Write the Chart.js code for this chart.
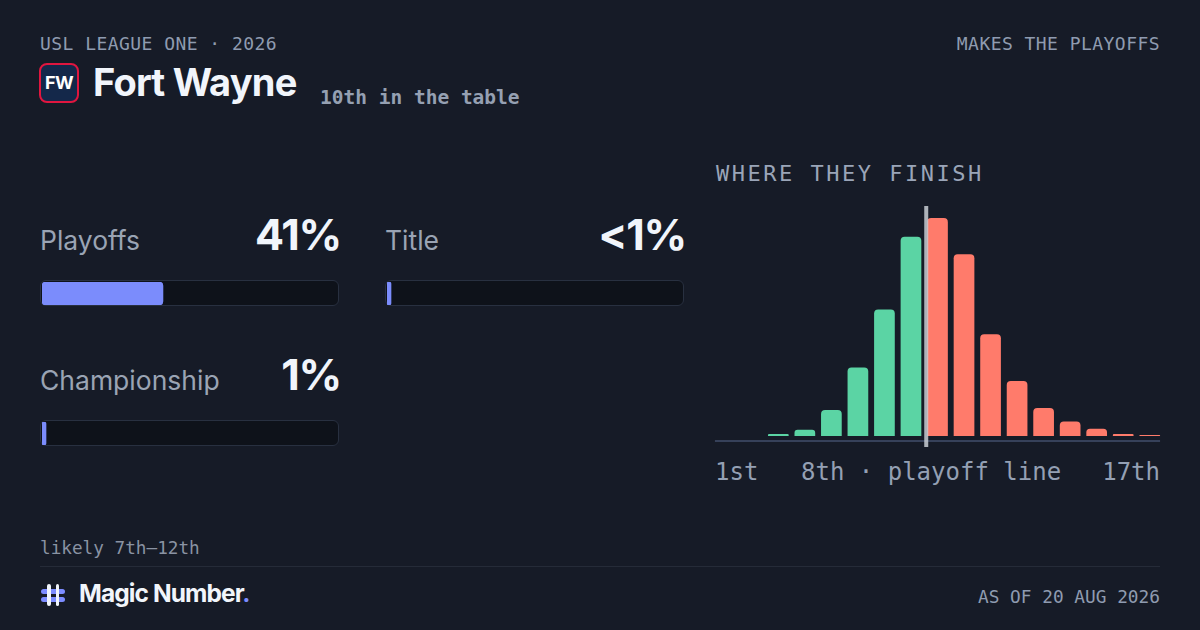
<!DOCTYPE html>
<html>
<head>
<meta charset="utf-8">
<script src="https://cdn.jsdelivr.net/npm/chart.js@4.4.1/dist/chart.umd.min.js"></script>
<style>
  html, body { margin: 0; padding: 0; }
  body { width: 1200px; height: 630px; background: #161b27; position: relative; overflow: hidden;
         font-family: Inter, "Noto Sans", sans-serif; color: #eef2f8; }
  .abs { position: absolute; line-height: 1; white-space: nowrap; }
  .mono { font-family: "DejaVu Sans Mono", "Liberation Mono", monospace; }
  .kicker { font-size: 18px; letter-spacing: 0.45px; color: #8f9bb0; }
  .badge { left: 39px; top: 63px; width: 36px; height: 36px; border: 2.5px solid #e0163f; border-radius: 8px;
           background: #14284a; color: #fff; font-weight: 700; font-size: 18px; letter-spacing: -0.5px;
           display: flex; align-items: center; justify-content: center; }
  .team { left: 93px; top: 63px; font-size: 38px; font-weight: 700; letter-spacing: -0.8px; color: #f1f5fb; }
  .rank { left: 320px; top: 88px; font-size: 19.5px; font-weight: 700; color: #95a0b2; }
  .olabel { font-size: 26.5px; color: #9aa4b4; }
  .oval { font-size: 43px; font-weight: 700; letter-spacing: -1.2px; color: #f1f5fb; text-align: right; }
  .track { position: absolute; width: 297px; height: 24px; background: #0e121a; border: 1.5px solid #283040; border-radius: 6px; }
  .track canvas { position: absolute; left: 1px; top: 0.5px; }
  .axlbl { font-size: 24px; color: #94a0b4; top: 460px; }
</style>
</head>
<body>
<div class="abs mono kicker" style="left:40px; top:35px;">USL LEAGUE ONE · 2026</div>
<div class="abs mono kicker" style="right:40px; top:35px;">MAKES THE PLAYOFFS</div>
<div class="abs badge">FW</div>
<div class="abs team">Fort Wayne</div>
<div class="abs mono rank">10th in the table</div>

<div id="odds"></div>

<div class="abs mono" style="left:716px; top:163px; font-size:22px; letter-spacing:2.5px; color:#9aa5b8;">WHERE THEY FINISH</div>
<div class="abs" style="left:712px; top:200px; width:451px; height:250px;"><canvas id="finish"></canvas></div>
<div class="abs mono axlbl" style="left:715px;">1st</div>
<div class="abs mono axlbl" style="left:801px;">8th · playoff line</div>
<div class="abs mono axlbl" style="right:40px;">17th</div>

<div class="abs mono" style="left:40px; top:540px; font-size:17.7px; color:#8a93a3;">likely 7th–12th</div>
<div class="abs" style="left:40px; top:566px; width:1120px; height:1px; background:#252b38;"></div>

<div class="abs" style="left:41px; top:584px; width:24px; height:22px;">
  <div style="position:absolute; left:0; top:5px; width:24px; height:5px; border-radius:3px; background:#7c8cff;"></div>
  <div style="position:absolute; left:0; top:13px; width:24px; height:5px; border-radius:3px; background:#7c8cff;"></div>
  <div style="position:absolute; left:6px; top:0; width:3.5px; height:22px; border-radius:2px; background:#f1f5fb;"></div>
  <div style="position:absolute; left:14.5px; top:0; width:3.5px; height:22px; border-radius:2px; background:#f1f5fb;"></div>
</div>
<div class="abs" style="left:79px; top:581px; font-size:24.5px; font-weight:700; letter-spacing:-0.9px; color:#f1f5fb;">Magic Number<span style="color:#7c8cff;">.</span></div>
<div class="abs mono" style="right:40px; top:588px; font-size:17.8px; color:#8f9bb0;">AS OF 20 AUG 2026</div>

<script>
Chart.defaults.animation = false;

// finishing position distribution (% of simulations)
const positions = ['1st', '2nd', '3rd', '4th', '5th', '6th', '7th', '8th', '9th', '10th',
                   '11th', '12th', '13th', '14th', '15th', '16th', '17th'];
const finishPct = [0, 0, 0.2, 0.6, 2.5, 6.6, 12.2, 19.2, 21.0, 17.5, 9.8, 5.3, 2.7, 1.4, 0.7, 0.2, 0.1];
const playoffSpots = 8;

// odds rows
const oddsLabels = ['Playoffs', 'Title', 'Championship'];
const oddsValues = [41, 0.3, 1];
const oddsText = ['41%', '<1%', '1%'];

const oddsBox = [
    { x: 40, y: 227 },
    { x: 385, y: 227 },
    { x: 40, y: 367 },
];

const oddsWrap = document.getElementById('odds');
for (let i = 0; i < oddsLabels.length; i++) {
    let b = oddsBox[i];
    oddsWrap.insertAdjacentHTML('beforeend',
        '<div class="abs olabel" style="left:' + b.x + 'px; top:' + b.y + 'px;">' + oddsLabels[i] + '</div>' +
        '<div class="abs oval" style="left:' + (b.x + 100) + 'px; width:201px; top:' + (b.y - 14) + 'px;">' + oddsText[i] + '</div>' +
        '<div class="track" style="left:' + b.x + 'px; top:' + (b.y + 53) + 'px;"><canvas id="odd' + i + '" width="295" height="23"></canvas></div>');

    new Chart(document.getElementById('odd' + i), {
        type: 'bar',
        data: {
            labels: [oddsLabels[i]],
            datasets: [{
                data: [oddsValues[i]],
                backgroundColor: '#7b8cfc',
                borderRadius: 4,
                borderSkipped: false,
                minBarLength: 4,
                barPercentage: 1,
                categoryPercentage: 1,
            }]
        },
        options: {
            indexAxis: 'y',
            responsive: false,
            devicePixelRatio: 1,
            layout: { padding: 0 },
            scales: {
                x: { display: false, min: 0, max: 100 },
                y: { display: false }
            },
            plugins: { legend: { display: false }, tooltip: { enabled: false } }
        }
    });
}

// playoff line + baseline
const playoffLine = {
    id: 'playoffLine',
    afterDatasetsDraw(chart) {
        const c = chart.ctx;
        const a = chart.chartArea;
        const bars = chart.getDatasetMeta(0).data;
        const first = bars[0], last = bars[bars.length - 1];
        c.save();
        c.fillStyle = '#36415a';
        c.fillRect(first.x - first.width / 2, a.bottom + 4, (last.x + last.width / 2) - (first.x - first.width / 2), 2);
        const step = bars[1].x - bars[0].x;
        const xLine = bars[playoffSpots - 1].x + step / 2 + 2;
        c.fillStyle = 'rgba(200, 204, 212, 0.85)';
        c.fillRect(xLine - 2, a.top, 4, a.bottom + 11 - a.top);
        c.restore();
    }
};

new Chart(document.getElementById('finish'), {
    type: 'bar',
    data: {
        labels: positions,
        datasets: [{
            data: finishPct,
            backgroundColor: finishPct.map((v, i) => i < playoffSpots ? '#5bd4a4' : '#ff7b6b'),
            borderRadius: 4,
            barPercentage: 0.78,
            categoryPercentage: 1,
        }]
    },
    options: {
        responsive: true,
        maintainAspectRatio: false,
        layout: { padding: { top: 6, bottom: 14, left: 0, right: 0 } },
        scales: {
            x: { display: false },
            y: { display: false, min: 0, max: 22.16 }
        },
        plugins: { legend: { display: false }, tooltip: { enabled: false } }
    },
    plugins: [playoffLine]
});
</script>
</body>
</html>
